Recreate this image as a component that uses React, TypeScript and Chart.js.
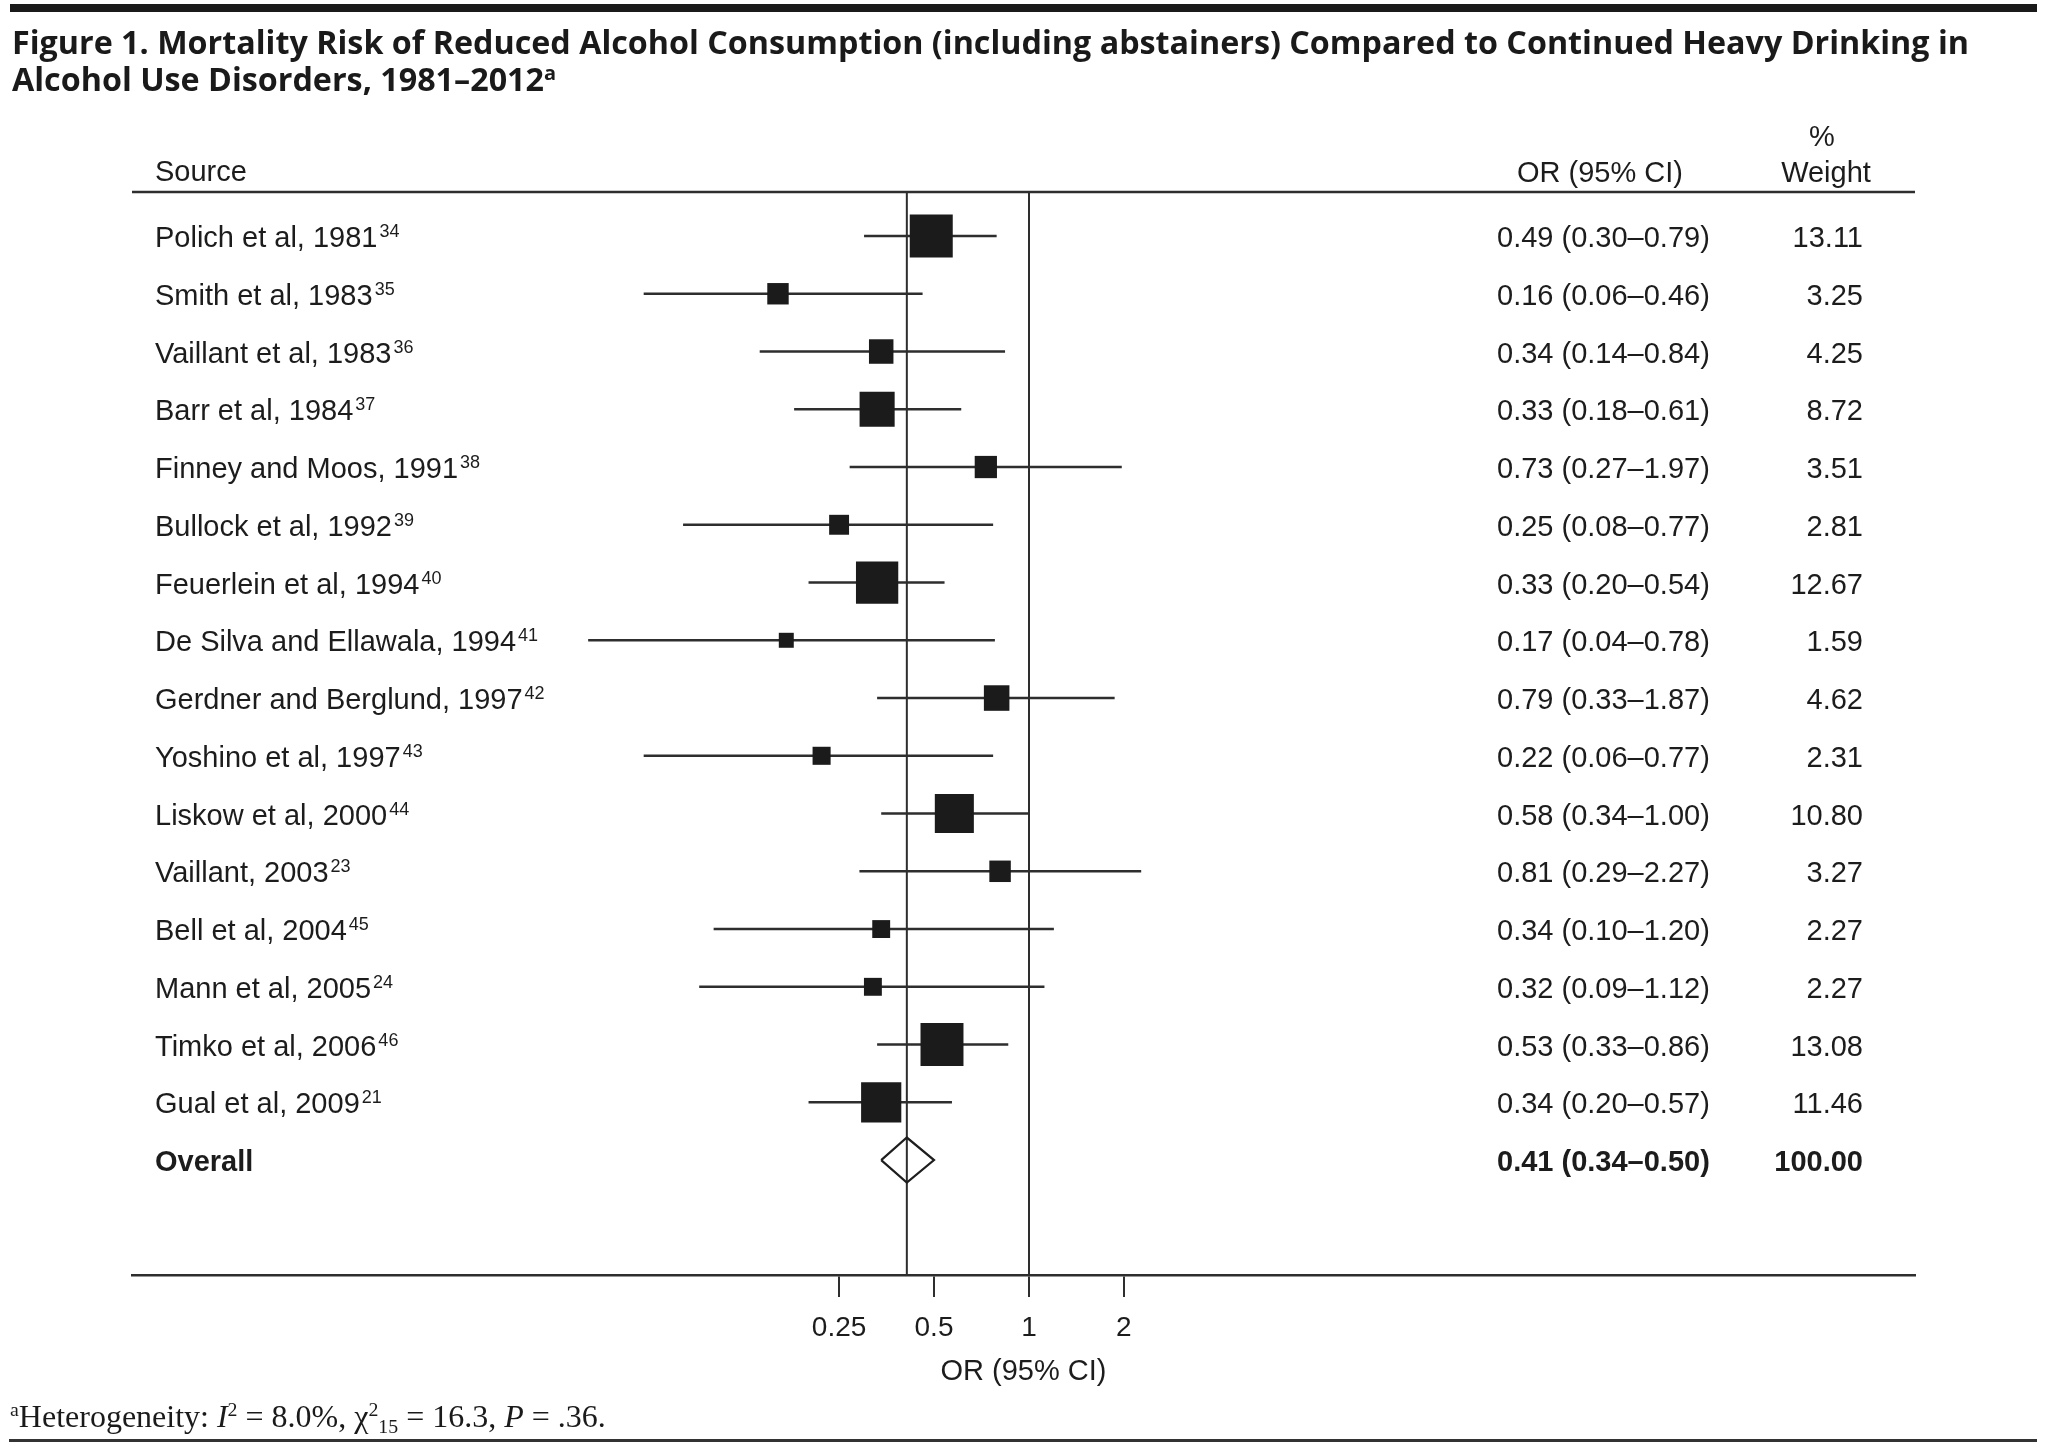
import React, { useEffect, useLayoutEffect, useRef } from 'react';
import { Chart, registerables } from 'chart.js';

Chart.register(...registerables);

// ---------------- data ----------------
const sources = [
  'Polich et al, 1981',
  'Smith et al, 1983',
  'Vaillant et al, 1983',
  'Barr et al, 1984',
  'Finney and Moos, 1991',
  'Bullock et al, 1992',
  'Feuerlein et al, 1994',
  'De Silva and Ellawala, 1994',
  'Gerdner and Berglund, 1997',
  'Yoshino et al, 1997',
  'Liskow et al, 2000',
  'Vaillant, 2003',
  'Bell et al, 2004',
  'Mann et al, 2005',
  'Timko et al, 2006',
  'Gual et al, 2009',
  'Overall',
];
const refs = ['34', '35', '36', '37', '38', '39', '40', '41', '42', '43', '44', '23', '45', '24', '46', '21', ''];
const orValues = [0.49, 0.16, 0.34, 0.33, 0.73, 0.25, 0.33, 0.17, 0.79, 0.22, 0.58, 0.81, 0.34, 0.32, 0.53, 0.34];
const ciLower = [0.3, 0.06, 0.14, 0.18, 0.27, 0.08, 0.2, 0.04, 0.33, 0.06, 0.34, 0.29, 0.1, 0.09, 0.33, 0.2];
const ciUpper = [0.79, 0.46, 0.84, 0.61, 1.97, 0.77, 0.54, 0.78, 1.87, 0.77, 1.0, 2.27, 1.2, 1.12, 0.86, 0.57];
const weights = [13.11, 3.25, 4.25, 8.72, 3.51, 2.81, 12.67, 1.59, 4.62, 2.31, 10.8, 3.27, 2.27, 2.27, 13.08, 11.46];
const overallOR = 0.41;
const overallLower = 0.34;
const overallUpper = 0.5;
const overallWeight = 100.0;
const xTickValues = [0.25, 0.5, 1, 2];
const xTickLabels = ['0.25', '0.5', '1', '2'];

// ---------------- styling ----------------
const TEXT = '#1c1c1c';
const LINE = '#2e2e2e';
const BOX = '#1b1b1b';
const SANS = '"Liberation Sans", Arial, Helvetica, sans-serif';
const FS = 29;
const Y_MIN = -0.762;
const Y_MAX = 17.99;
const X_MIN = 0.00143;
const X_MAX = 646;
const LABEL_PAD = 23;
const BASE_OFF = 11;

const fmt = (v: number) => v.toFixed(2);
const orTexts = [
  ...orValues.map((v, i) => `${fmt(v)} (${fmt(ciLower[i])}\u2013${fmt(ciUpper[i])})`),
  `${fmt(overallOR)} (${fmt(overallLower)}\u2013${fmt(overallUpper)})`,
];
const weightTexts = [...weights.map((w) => fmt(w)), fmt(overallWeight)];

const tablePlugin = {
  id: 'forestTable',
  afterDraw(chart: any) {
    const { ctx, chartArea, scales } = chart;
    const ys = scales.y;
    const labelX = chartArea.left + LABEL_PAD;
    ctx.save();
    ctx.fillStyle = TEXT;
    ctx.font = `${FS}px ${SANS}`;
    ctx.textBaseline = 'alphabetic';
    ctx.textAlign = 'left';
    ctx.fillText('Source', labelX, 181);
    ctx.textAlign = 'center';
    ctx.fillText('OR (95% CI)', 1600, 182);
    ctx.fillText('%', 1822, 146);
    ctx.fillText('Weight', 1826, 182);

    ctx.strokeStyle = LINE;
    ctx.lineWidth = 2.5;
    ctx.beginPath();
    ctx.moveTo(chartArea.left, chartArea.top);
    ctx.lineTo(chartArea.right, chartArea.top);
    ctx.stroke();

    for (let i = 0; i < sources.length; i++) {
      const py = ys.getPixelForValue(i);
      const bold = i === sources.length - 1;
      ctx.font = `${bold ? 'bold ' : ''}${FS}px ${SANS}`;
      ctx.textBaseline = 'alphabetic';
      ctx.textAlign = 'left';
      ctx.fillText(sources[i], labelX, py + BASE_OFF);
      ctx.fillText(orTexts[i], 1497, py + BASE_OFF);
      ctx.textAlign = 'right';
      ctx.fillText(weightTexts[i], 1863, py + BASE_OFF);
      if (refs[i]) {
        ctx.font = `${FS}px ${SANS}`;
        const w = ctx.measureText(sources[i]).width;
        ctx.font = `18px ${SANS}`;
        ctx.textAlign = 'left';
        ctx.fillText(refs[i], labelX + w + 2, py + 1);
      }
    }
    ctx.restore();
  },
};

export default function App() {
  const canvasRef = useRef<HTMLCanvasElement | null>(null);
  const titleRef = useRef<HTMLDivElement | null>(null);
  const line1Ref = useRef<HTMLSpanElement | null>(null);

  useLayoutEffect(() => {
    document.body.style.margin = '0';
    document.body.style.overflow = 'hidden';
    if (titleRef.current && line1Ref.current) {
      const w = line1Ref.current.getBoundingClientRect().width;
      titleRef.current.style.transform = `scaleX(${1957 / w})`;
    }
  }, []);

  useEffect(() => {
    if (!canvasRef.current) return;
    const whiskerData: any[] = [];
    orValues.forEach((_, i) => {
      whiskerData.push({ x: ciLower[i], y: i });
      whiskerData.push({ x: ciUpper[i], y: i });
      whiskerData.push({ x: ciUpper[i], y: null });
    });
    const oi = sources.length - 1;
    const diamondData = [
      { x: overallLower, y: oi },
      { x: overallOR, y: oi - 0.39 },
      { x: overallUpper, y: oi },
      { x: overallOR, y: oi + 0.39 },
      { x: overallLower, y: oi },
    ];
    const chart = new Chart(canvasRef.current, {
      type: 'scatter',
      data: {
        datasets: [
          {
            type: 'scatter',
            label: 'OR',
            data: orValues.map((v, i) => ({ x: v, y: i })),
            pointStyle: 'rect',
            pointRadius: (c: any) => 8.4 * Math.sqrt(weights[c.dataIndex] ?? 0),
            backgroundColor: BOX,
            borderWidth: 0,
            order: 0,
          } as any,
          {
            type: 'line',
            label: '95% CI',
            data: whiskerData,
            borderColor: LINE,
            borderWidth: 2.4,
            pointRadius: 0,
            spanGaps: false,
            fill: false,
            order: 1,
          } as any,
          {
            type: 'line',
            label: 'Overall',
            data: diamondData,
            borderColor: '#1e1e1e',
            borderWidth: 2.2,
            pointRadius: 0,
            fill: false,
            tension: 0,
            order: 2,
          } as any,
          {
            type: 'line',
            label: 'Overall line',
            data: [
              { x: overallOR, y: Y_MIN },
              { x: overallOR, y: Y_MAX },
            ],
            borderColor: LINE,
            borderWidth: 2,
            pointRadius: 0,
            fill: false,
            order: 3,
          } as any,
        ],
      },
      options: {
        animation: false,
        responsive: false,
        maintainAspectRatio: false,
        devicePixelRatio: 1,
        events: [],
        layout: { padding: { left: 132, right: 133, top: 192, bottom: 0 } },
        plugins: { legend: { display: false }, tooltip: { enabled: false }, title: { display: false } },
        scales: {
          x: {
            type: 'logarithmic',
            position: 'bottom',
            min: X_MIN,
            max: X_MAX,
            bounds: 'data',
            afterBuildTicks: (axis: any) => {
              axis.ticks = xTickValues.map((v) => ({ value: v }));
            },
            afterFit: (axis: any) => {
              axis.height = 172;
            },
            ticks: {
              autoSkip: false,
              maxRotation: 0,
              padding: 14,
              color: TEXT,
              font: { family: SANS, size: 28 },
              callback: (_v: any, idx: number) => xTickLabels[idx],
            },
            grid: {
              color: (c: any) => (c.tick && c.tick.value === 1 ? LINE : 'rgba(0,0,0,0)'),
              tickColor: LINE,
              lineWidth: 2,
              tickLength: 22,
              drawTicks: true,
            },
            border: { display: true, color: LINE, width: 2.5 },
            title: {
              display: true,
              text: 'OR (95% CI)',
              color: TEXT,
              font: { family: SANS, size: FS },
              padding: { top: 0, bottom: 58 },
            },
          } as any,
          y: {
            type: 'linear',
            position: 'left',
            reverse: true,
            min: Y_MIN,
            max: Y_MAX,
            afterBuildTicks: (axis: any) => {
              axis.ticks = sources.map((_, i) => ({ value: i }));
            },
            afterFit: (axis: any) => {
              axis.width = 0;
            },
            ticks: { display: false },
            grid: { display: false, drawTicks: false },
            border: { display: false },
          } as any,
        },
      },
      plugins: [tablePlugin],
    });
    return () => chart.destroy();
  }, []);

  const supStyle: React.CSSProperties = {
    fontSize: '62%',
    position: 'relative',
    top: '-0.55em',
    verticalAlign: 'baseline',
    lineHeight: 0,
  };
  const subStyle: React.CSSProperties = {
    fontSize: '62%',
    position: 'relative',
    top: '0.3em',
    verticalAlign: 'baseline',
    lineHeight: 0,
  };

  return (
    <div style={{ position: 'relative', width: 2048, height: 1447, overflow: 'hidden', background: '#fff' }}>
      <canvas
        ref={canvasRef}
        width={2048}
        height={1447}
        style={{ position: 'absolute', left: 0, top: 0, width: 2048, height: 1447 }}
      />
      <div style={{ position: 'absolute', left: 10, top: 4, width: 2027, height: 8, background: '#1a1a1a' }} />
      <div
        ref={titleRef}
        style={{
          position: 'absolute',
          left: 12,
          top: 23,
          fontFamily: '"Open Sans", "Noto Sans", sans-serif',
          fontWeight: 700,
          fontSize: 32,
          lineHeight: '37px',
          color: '#1a1a1a',
          whiteSpace: 'nowrap',
          transformOrigin: '0 0',
        }}
      >
        <div>
          <span ref={line1Ref} style={{ display: 'inline-block' }}>
            Figure 1. Mortality Risk of Reduced Alcohol Consumption (including abstainers) Compared to Continued Heavy
            Drinking in
          </span>
        </div>
        <div>
          Alcohol Use Disorders, 1981{'\u2013'}2012<span style={supStyle}>a</span>
        </div>
      </div>
      <div
        style={{
          position: 'absolute',
          left: 10,
          top: 1400,
          fontFamily: '"Liberation Serif", "Times New Roman", serif',
          fontSize: 32,
          lineHeight: '32px',
          color: '#1a1a1a',
          whiteSpace: 'nowrap',
        }}
      >
        <span style={supStyle}>a</span>Heterogeneity: <i>I</i>
        <span style={supStyle}>2</span>
        {'\u2005=\u20058.0%, \u03c7'}
        <span style={supStyle}>2</span>
        <span style={subStyle}>15</span>
        {'\u2005=\u200516.3, '}
        <i>P</i>
        {'\u2005=\u2005.36.'}
      </div>
      <div style={{ position: 'absolute', left: 9, top: 1439, width: 2028, height: 3, background: '#333' }} />
    </div>
  );
}
